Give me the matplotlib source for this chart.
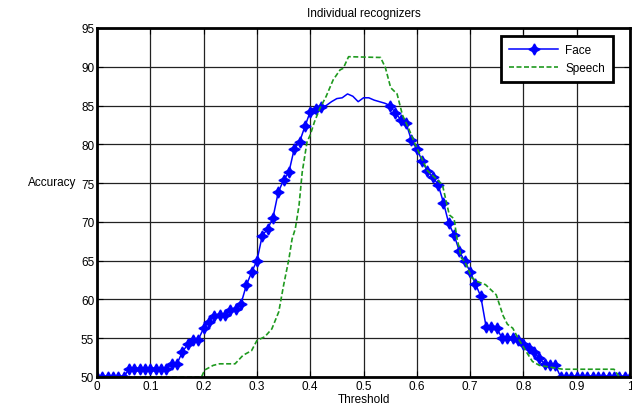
import matplotlib
matplotlib.use("Agg")
import matplotlib.pyplot as plt
import numpy as np

plt.rcParams['font.family'] = ['Liberation Sans', 'DejaVu Sans']

title = "Individual recognizers"
xlabel = "Threshold"
ylabel = "Accuracy"
x_ticks = [0, 0.1, 0.2, 0.3, 0.4, 0.5, 0.6, 0.7, 0.8, 0.9, 1.0]
x_tick_labels = ["0", "0.1", "0.2", "0.3", "0.4", "0.5", "0.6", "0.7", "0.8", "0.9", "1"]
y_ticks = [50, 55, 60, 65, 70, 75, 80, 85, 90, 95]

face_x = [0.00, 0.01, 0.02, 0.03, 0.04, 0.05, 0.06, 0.07, 0.08, 0.09,
          0.10, 0.11, 0.12, 0.13, 0.14, 0.15, 0.16, 0.17, 0.18, 0.19,
          0.20, 0.21, 0.22, 0.23, 0.24, 0.25, 0.26, 0.27, 0.28, 0.29,
          0.30, 0.31, 0.32, 0.33, 0.34, 0.35, 0.36, 0.37, 0.38, 0.39,
          0.40, 0.41, 0.42, 0.43, 0.44, 0.45, 0.46, 0.47, 0.48, 0.49,
          0.50, 0.51, 0.52, 0.53, 0.54, 0.55, 0.56, 0.57, 0.58, 0.59,
          0.60, 0.61, 0.62, 0.63, 0.64, 0.65, 0.66, 0.67, 0.68, 0.69,
          0.70, 0.71, 0.72, 0.73, 0.74, 0.75, 0.76, 0.77, 0.78, 0.79,
          0.80, 0.81, 0.82, 0.83, 0.84, 0.85, 0.86, 0.87, 0.88, 0.89,
          0.90, 0.91, 0.92, 0.93, 0.94, 0.95, 0.96, 0.97, 0.98, 0.99, 1.00]
face_y = [50, 50, 50, 50, 50, 50, 51, 51, 51, 51,
          51, 51, 51, 51, 51.7, 51.7, 53.2, 54.2, 54.8, 54.8,
          56.3, 57.1, 57.9, 58.0, 58.0, 58.7, 58.8, 59.4, 61.8, 63.5,
          65.0, 68.2, 69.1, 70.5, 73.8, 75.4, 76.4, 79.4, 80.3, 82.3,
          84.2, 84.6, 84.8, 85.0, 85.5, 85.9, 86.0, 86.5, 86.2, 85.5,
          86.0, 86.0, 85.7, 85.5, 85.3, 85.0, 84.0, 83.2, 82.7, 80.5,
          79.4, 77.9, 76.5, 75.8, 74.8, 72.5, 69.8, 68.3, 66.2, 64.9,
          63.6, 62.0, 60.4, 56.5, 56.4, 56.3, 55.0, 55.0, 55.0, 54.8,
          54.3, 53.8, 53.2, 52.4, 51.7, 51.6, 51.5, 50, 50, 50,
          50, 50, 50, 50, 50, 50, 50, 50, 50, 50, 50]

speech_x = [0.0, 0.196, 0.202, 0.218, 0.23, 0.259, 0.274, 0.29, 0.30, 0.315,
            0.328, 0.341, 0.35, 0.36, 0.366, 0.372, 0.379, 0.385, 0.394, 0.40,
            0.408, 0.418, 0.43, 0.443, 0.456, 0.462, 0.472, 0.532, 0.541, 0.551,
            0.563, 0.573, 0.585, 0.597, 0.62, 0.648, 0.661, 0.67, 0.675, 0.684,
            0.69, 0.703, 0.714, 0.729, 0.749, 0.762, 0.77, 0.78, 0.79, 0.805,
            0.817, 0.83, 0.874, 0.97, 0.98, 1.0]
speech_y = [50, 50, 50.9, 51.5, 51.7, 51.7, 52.8, 53.4, 54.7, 55.2,
            56.2, 58.4, 61.8, 65.2, 67.8, 69.1, 72.1, 76.4, 80.3, 81.2,
            82.9, 84.6, 86.2, 88.3, 89.6, 89.8, 91.3, 91.2, 89.9, 87.3,
            86.5, 83.8, 82.0, 80.0, 76.6, 74.8, 70.9, 70.4, 68.0, 65.3,
            64.9, 62.8, 62.3, 61.9, 60.6, 57.9, 56.8, 56.3, 55.0, 53.3,
            52.0, 51.5, 51.0, 51.0, 50, 50]

fig = plt.figure(figsize=(6.32, 4.14), dpi=100)
ax = fig.add_axes([97/632, 1 - 378/414, 533/632, 349/414])

marks = [i for i, v in enumerate(face_x) if not (0.425 < v < 0.545)]
ax.plot(face_x, face_y, color='#0000ff', linewidth=1.1, marker=(4, 1, 0),
        markersize=8, markevery=marks, label='Face')
ax.plot(speech_x, speech_y, color='#1f9a1f', linewidth=1.2, linestyle='--',
        dashes=(3, 1.5), label='Speech')

ax.set_xlim(0, 1)
ax.set_ylim(50, 95)
ax.set_xticks(x_ticks)
ax.set_xticklabels(x_tick_labels)
ax.set_yticks(y_ticks)
ax.grid(True, color='#222222', linewidth=0.9, linestyle='-')
ax.set_axisbelow(True)
ax.tick_params(direction='in', top=True, right=True, length=4, labelsize=8.5,
               pad=2, colors='black')
for s in ax.spines.values():
    s.set_linewidth(2)
    s.set_color('black')

ax.set_title(title, fontsize=8.5, pad=9)
ax.set_xlabel(xlabel, fontsize=8.5, labelpad=1)
ax.set_ylabel(ylabel, fontsize=8.5, rotation=0, labelpad=2, va='center')
ax.yaxis.set_label_coords(-0.085, 0.56)

leg = ax.legend(loc='upper right', bbox_to_anchor=(0.969, 0.977),
                fontsize=8.5, fancybox=False, framealpha=1, edgecolor='black',
                handlelength=4.2, labelspacing=0.5, borderpad=0.7,
                borderaxespad=0, handletextpad=0.6)
leg.get_frame().set_linewidth(2)

fig.savefig('out.png', dpi=100)
